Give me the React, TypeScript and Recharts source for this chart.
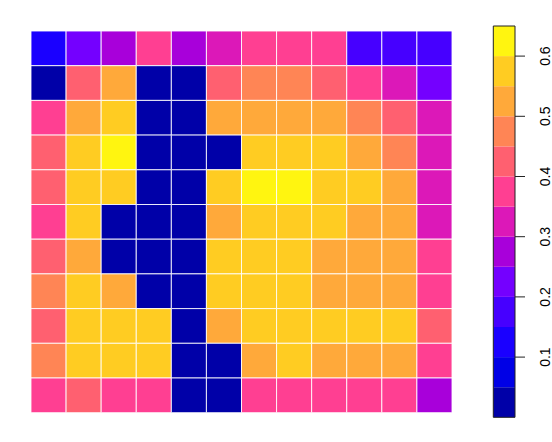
import React from "react";
import { ReferenceArea, Scatter, ScatterChart, XAxis, YAxis } from "recharts";

// cell values, top row first, 12 columns each
const ROW_1 = [0.12, 0.22, 0.28, 0.38, 0.27, 0.33, 0.37, 0.38, 0.38, 0.17, 0.18, 0.18];
const ROW_2 = [0.01, 0.42, 0.52, 0.0, 0.0, 0.43, 0.47, 0.48, 0.42, 0.37, 0.32, 0.23];
const ROW_3 = [0.38, 0.53, 0.56, 0.0, 0.0, 0.52, 0.53, 0.52, 0.51, 0.47, 0.44, 0.33];
const ROW_4 = [0.41, 0.57, 0.61, 0.0, 0.0, 0.02, 0.57, 0.56, 0.56, 0.53, 0.48, 0.33];
const ROW_5 = [0.43, 0.56, 0.57, 0.0, 0.0, 0.57, 0.62, 0.61, 0.58, 0.56, 0.52, 0.32];
const ROW_6 = [0.38, 0.57, 0.01, 0.0, 0.0, 0.53, 0.58, 0.57, 0.56, 0.52, 0.53, 0.34];
const ROW_7 = [0.42, 0.53, 0.0, 0.0, 0.01, 0.56, 0.57, 0.58, 0.54, 0.52, 0.53, 0.36];
const ROW_8 = [0.46, 0.56, 0.52, 0.0, 0.0, 0.57, 0.56, 0.58, 0.53, 0.52, 0.51, 0.38];
const ROW_9 = [0.42, 0.57, 0.58, 0.56, 0.0, 0.53, 0.57, 0.58, 0.56, 0.57, 0.56, 0.43];
const ROW_10 = [0.47, 0.56, 0.57, 0.58, 0.0, 0.01, 0.52, 0.56, 0.53, 0.52, 0.53, 0.37];
const ROW_11 = [0.37, 0.41, 0.38, 0.38, 0.0, 0.01, 0.37, 0.36, 0.38, 0.37, 0.38, 0.29];
const ROWS = [ROW_1, ROW_2, ROW_3, ROW_4, ROW_5, ROW_6, ROW_7, ROW_8, ROW_9, ROW_10, ROW_11];

// colour scale: 13 bands of 0.05 from 0 to 0.65
const BREAKS = [0, 0.05, 0.1, 0.15, 0.2, 0.25, 0.3, 0.35, 0.4, 0.45, 0.5, 0.55, 0.6, 0.65];
const BAND_COLORS = [
  "#0000A8", "#0000E6", "#1A00FF", "#4600FF", "#7400FF", "#A800DA", "#DC18B8",
  "#FF3F92", "#FF6070", "#FF8555", "#FFA93A", "#FFCC22", "#FFF510",
];
const LEGEND_TICKS = [0.1, 0.2, 0.3, 0.4, 0.5, 0.6];

const FONT = "'Liberation Sans', Arial, sans-serif";

const colorOf = (v: number) => BAND_COLORS[Math.min(BAND_COLORS.length - 1, Math.floor(v * 20 + 1e-9))];

const cells = ROWS.flatMap((row, r) =>
  row.map((v, c) => ({ x: c + 1, y: ROWS.length - r, v }))
);

const bands = BAND_COLORS.map((color, i) => ({ lo: BREAKS[i], hi: BREAKS[i + 1], color }));

function LegendTick(props: any) {
  const { x, y, payload } = props;
  const tx = x + 25;
  return (
    <text
      x={tx}
      y={y}
      transform={`rotate(-90 ${tx} ${y})`}
      textAnchor="middle"
      fill="#000"
      style={{ fontSize: "14px", fontFamily: FONT }}
    >
      {Number(payload.value).toFixed(1)}
    </text>
  );
}

export default function App() {
  return (
    <div style={{ position: "absolute", left: 0, top: 0, width: 552, height: 442, background: "#fff" }}>
      <div style={{ position: "absolute", left: 0, top: 0 }}>
        <ScatterChart width={552} height={442} margin={{ top: 31, right: 100, bottom: 29.3, left: 31 }}>
          <XAxis type="number" dataKey="x" domain={[0.5, 12.5]} hide />
          <YAxis type="number" dataKey="y" domain={[0.5, 11.5]} hide width={0} />
          <Scatter data={cells} shape={() => null} isAnimationActive={false} />
          {cells.map((d) => (
            <ReferenceArea
              key={`${d.x}-${d.y}`}
              x1={d.x - 0.5}
              x2={d.x + 0.5}
              y1={d.y - 0.5}
              y2={d.y + 0.5}
              fill={colorOf(d.v)}
              fillOpacity={1}
              stroke="#ffffff"
              strokeWidth={1}
              strokeOpacity={0.85}
            />
          ))}
        </ScatterChart>
      </div>
      <div style={{ position: "absolute", left: 0, top: 0 }}>
        <ScatterChart width={552} height={442} margin={{ top: 26, right: 0, bottom: 24.7, left: 493.3 }}>
          <XAxis type="number" dataKey="x" domain={[0, 1]} hide />
          <YAxis
            type="number"
            dataKey="y"
            orientation="right"
            domain={[0, 0.65]}
            ticks={LEGEND_TICKS}
            width={37}
            axisLine={false}
            tickSize={10}
            tickMargin={0}
            stroke="#222"
            tick={<LegendTick />}
          />
          <Scatter
            data={bands.map((b) => ({ x: 0.5, y: (b.lo + b.hi) / 2 }))}
            shape={() => null}
            isAnimationActive={false}
          />
          {bands.map((b) => (
            <ReferenceArea
              key={b.lo}
              x1={0}
              x2={1}
              y1={b.lo}
              y2={b.hi}
              fill={b.color}
              fillOpacity={1}
              stroke="none"
            />
          ))}
          <ReferenceArea x1={0} x2={1} y1={0} y2={0.65} fill="none" stroke="#222" strokeWidth={1} />
        </ScatterChart>
      </div>
    </div>
  );
}
